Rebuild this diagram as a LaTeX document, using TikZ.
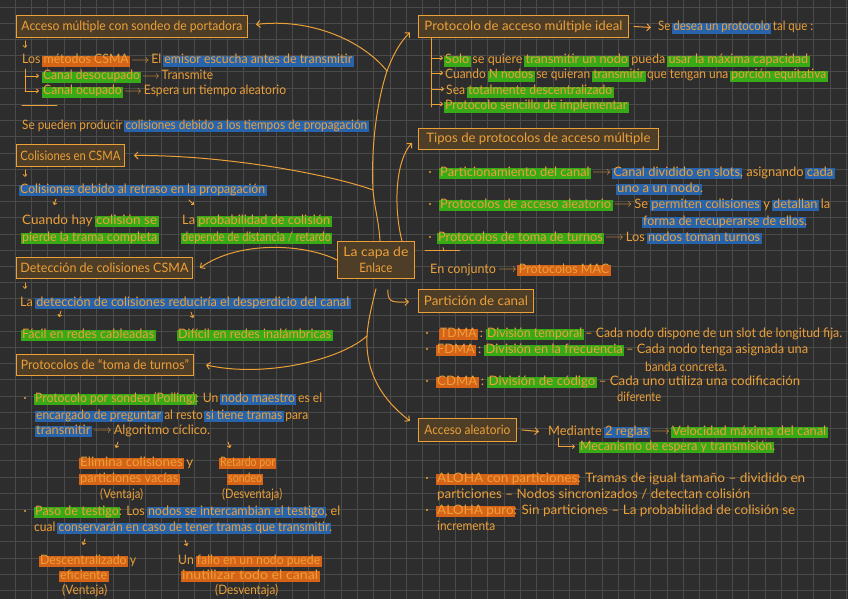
\documentclass[tikz,border=0pt]{standalone}
\usepackage{fontspec}
\setmainfont{Lato}
\usepackage{graphicx}
\usetikzlibrary{arrows.meta}
\definecolor{bg}{RGB}{45,45,45}
\definecolor{gridc}{RGB}{74,74,74}
\definecolor{ink}{RGB}{236,160,56}
\definecolor{hlB}{RGB}{40,100,172}
\definecolor{hlG}{RGB}{56,170,24}
\definecolor{hlO}{RGB}{214,100,24}
\definecolor{boxfill}{RGB}{78,62,40}
\newcommand\HLC[2]{{\setbox0\hbox{#2}\rlap{\hskip-1.5pt\textcolor{#1}{\rule[-2.6pt]{\dimexpr\wd0+3pt\relax}{10.4pt}}}\box0}}
\newcommand\HB[1]{\HLC{hlB}{#1}}
\newcommand\HG[1]{\HLC{hlG}{#1}}
\newcommand\HO[1]{\HLC{hlO}{#1}}
\newcommand\Arr{\,\raisebox{0.3pt}{$\longrightarrow$}\,}
\newsavebox\fwbox
\newcommand\FW[2]{\sbox\fwbox{#2}\scalebox{\fpeval{#1/(\the\wd\fwbox)}}[1]{\usebox\fwbox}}
\newcommand\TL[5]{\node[txt] (#1) at (#2,#3) {\FW{#4}{#5}};}
\newcommand\BX[7]{\node[box, minimum width=#4pt, minimum height=#5pt] (#1) at (#2,#3) {\FW{#6}{#7}};}
\tikzset{
 txt/.style={text=ink, inner sep=0pt, anchor=base west, font=\fontsize{13}{15}\selectfont},
 box/.style={draw=ink, line width=0.9pt, fill=boxfill, inner sep=0pt, anchor=north west, text=ink, font=\fontsize{13}{16}\selectfont, align=center},
 conn/.style={draw=ink, line width=1pt, line cap=round, -{Straight Barb[length=3.5pt,width=7pt]}},
 trunk/.style={draw=ink, line width=1pt, line cap=round},
 sarr/.style={draw=ink, line width=0.8pt, line cap=round, -{Straight Barb[length=2pt,width=4pt]}},
 thinl/.style={draw=ink, line width=0.8pt, line cap=round},
 bul/.style={circle, fill=ink, inner sep=0pt, minimum size=2.4pt},
 gridl/.style={draw=gridc, line width=0.6pt}
}
\begin{document}
\begin{tikzpicture}[x=1pt,y=-1pt]
\useasboundingbox (0,0) rectangle (848,599);
\fill[bg] (0,0) rectangle (848,599);
\foreach \i in {0,...,51} \draw[gridl] ({15+16.3*\i},0) -- ({15+16.3*\i},599);
\foreach \j in {0,...,36} \draw[gridl] (0,{7+16.2*\j}) -- (848,{7+16.2*\j});

% boxes
\BX{b1}{16}{15}{231}{22}{221}{Acceso múltiple con sondeo de portadora}
\BX{b2}{16}{144}{108}{22}{100}{Colisiones en CSMA}
\BX{b3}{16}{257}{176}{21}{168}{Detección de colisiones CSMA}
\BX{b4}{16}{354}{177}{21}{168}{Protocolos de “toma de turnos”}
\BX{b5}{418}{15}{210}{22}{198}{Protocolo de acceso múltiple ideal}
\BX{b6}{418}{128}{240}{21}{224}{Tipos de protocolos de acceso múltiple}
\BX{b7}{418}{289}{115}{23}{104}{Partición de canal}
\BX{b8}{418}{418}{98}{23}{86}{Acceso aleatorio}
\node[box, minimum width=77pt, minimum height=37pt] (enl) at (337,241) {\FW{65}{La capa de}\\\FW{33}{Enlace}};

% left texts
\TL{L1}{22}{64}{330}{Los \HO{métodos CSMA}\Arr El \HB{emisor escucha antes de transmitir}}
\TL{L2}{43}{80}{170}{\HG{Canal desocupado}\Arr Transmite}
\TL{L3}{43}{95}{243}{\HG{Canal ocupado}\Arr Espera un tiempo aleatorio}
\TL{L4}{22}{129}{345}{Se pueden producir \HB{colisiones debido a los tiempos de propagación}}
\TL{L5}{20}{193}{245}{\HB{Colisiones debido al retraso en la propagación}}
\TL{L6}{22}{224}{135}{Cuando hay \HG{colisión se}}
\TL{L7}{22}{241}{135}{\HG{pierde la trama completa}}
\TL{L8}{182}{224}{148}{La \HG{probabilidad de colisión}}
\TL{L9}{182}{241}{149}{\HG{depende de distancia / retardo}}
\TL{L10}{20}{306}{329}{La \HB{detección de colisiones reduciría el desperdicio del canal}}
\TL{L11}{22}{338}{132}{\HG{Fácil en redes cableadas}}
\TL{L12}{178}{338}{153}{\HG{Difícil en redes inalámbricas}}
\TL{L13}{35}{402}{287}{\HG{Protocolo por sondeo (Polling)}: Un \HB{nodo maestro} es el}
\TL{L14}{36}{419}{272}{\HB{encargado de preguntar} al resto \HB{si tiene tramas} para}
\TL{L15}{36}{434}{174}{\HB{transmitir}\Arr Algoritmo cíclico.}
\TL{L16}{80}{466}{113}{\HO{Elimina colisiones} y}
\TL{L17}{80}{482}{98}{\HO{particiones vacías}}
\TL{L18}{100}{498}{43}{(Ventaja)}
\TL{L19}{220}{466}{55}{\HO{Retardo por}}
\TL{L20}{228}{482}{34}{\HO{sondeo}}
\TL{L21}{222}{498}{60}{(Desventaja)}
\TL{L22}{35}{515}{305}{\HG{Paso de testigo}: Los \HB{nodos se intercambian el testigo}, el}
\TL{L23}{34}{531}{298}{cual \HB{conservarán en caso de tener tramas que transmitir}.}
\TL{L24}{40}{564}{96}{\HO{Descentralizado} y}
\TL{L25}{60}{579}{47}{\HO{eficiente}}
\TL{L26}{62}{594}{45}{(Ventaja)}
\TL{L27}{178}{564}{142}{Un \HO{fallo en un nodo puede}}
\TL{L28}{182}{579}{136}{\HO{inutilizar todo el canal}}
\TL{L29}{215}{594}{63}{(Desventaja)}

% right texts
\TL{R1}{658}{31}{155}{Se \HB{desea un protocolo} tal que :}
\TL{R2}{445}{64}{363}{\HG{Solo} se quiere \HG{transmitir un nodo} pueda \HG{usar la máxima capacidad}}
\TL{R3}{445}{79}{381}{Cuando \HG{N nodos} se quieran \HG{transmitir} que tengan una \HG{porción equitativa}}
\TL{R4}{446}{95}{166}{Sea \HG{totalmente descentralizado}}
\TL{R5}{445}{110}{182}{\HG{Protocolo sencillo de implementar}}
\TL{R6}{440}{176}{393}{\HG{Particionamiento del canal}\Arr\HB{Canal dividido en slots}, asignando \HB{cada}}
\TL{R7}{617}{192}{86}{\HB{uno a un nodo}.}
\TL{R8}{440}{208}{390}{\HG{Protocolos de acceso aleatorio}\Arr Se \HB{permiten colisiones} y \HB{detallan} la}
\TL{R9}{643}{225}{164}{\HB{forma de recuperarse de ellos}.}
\TL{R10}{438}{241}{322}{\HG{Protocolos de toma de turnos}\Arr Los \HB{nodos toman turnos}}
\TL{R11}{430}{273}{179}{En conjunto\Arr\HO{Protocolos MAC}}
\TL{R12}{440}{337}{402}{\HO{TDMA} : \HG{División temporal} – Cada nodo dispone de un slot de longitud fija.}
\TL{R13}{437}{353}{371}{\HO{FDMA} : \HG{División en la frecuencia} – Cada nodo tenga asignada una}
\TL{R14}{645}{371}{82}{banda concreta.}
\TL{R15}{437}{385}{363}{\HO{CDMA} : \HG{División de código} – Cada uno utiliza una codificación}
\TL{R16}{617}{401}{44}{diferente}
\TL{R17}{548}{435}{278}{Mediante \HB{2 reglas}\Arr\HG{Velocidad máxima del canal}}
\TL{R18}{580}{450}{195}{\HG{Mecanismo de espera y transmisión}.}
\TL{R19}{437}{482}{368}{\HO{ALOHA con particiones}: Tramas de igual tamaño – dividido en}
\TL{R20}{437}{498}{313}{particiones – Nodos sincronizados / detectan colisión}
\TL{R21}{437}{514}{358}{\HO{ALOHA puro}: Sin particiones – La probabilidad de colisión se}
\TL{R22}{437}{530}{58}{incrementa}

% bullets
\node[bul] (u1) at (25,398) {};
\node[bul] (u2) at (25,511) {};
\node[bul] (u3) at (430,172) {};
\node[bul] (u4) at (430,204) {};
\node[bul] (u5) at (430,237) {};
\node[bul] (u6) at (427,333) {};
\node[bul] (u7) at (427,349) {};
\node[bul] (u8) at (427,381) {};
\node[bul] (u9) at (427,478) {};
\node[bul] (u10) at (427,510) {};

% main connectors
\coordinate (j1) at (373,190);
\coordinate (j2) at (387,71);
\coordinate (j3) at (367,336);
\draw[trunk] ([xshift=4pt]enl.north) .. controls (379,222) and (374,205) .. (j1) .. controls (371,150) and (376,105) .. (j2);
\draw[conn] (j2) .. controls (393,55) and (400,42) .. ([xshift=-8pt,yshift=-6pt]b5.west);
\draw[conn] (j2) .. controls (362,40) and (310,18) .. ([xshift=8pt,yshift=2pt]b1.east);
\draw[conn] (j1) .. controls (335,176) and (230,155) .. ([xshift=9pt]b2.east);
\draw[conn] ([xshift=26pt]enl.north) .. controls (393,205) and (396,160) .. ([xshift=-6pt,yshift=-4pt]b6.west);
\draw[conn] (enl.west) .. controls (305,244) and (240,240) .. ([xshift=7pt]b3.east);
\draw[trunk] ([yshift=-10pt]enl.south) .. controls (372,305) and (368,320) .. (j3);
\draw[conn] (j3) .. controls (365,375) and (385,402) .. ([xshift=-8pt,yshift=9pt]b8.west);
\draw[conn] (j3) .. controls (340,360) and (265,378) .. ([xshift=12pt]b4.east);
\draw[conn] ([xshift=12pt,yshift=-11pt]enl.south) .. controls (387,304) and (395,302) .. ([xshift=-9pt,yshift=-1pt]b7.west);

% box to text arrows
\draw[conn] ([xshift=5pt]b5.east) -- ([xshift=-7pt]R1.west);
\draw[conn] ([xshift=5pt]b8.east) -- ([xshift=-9pt]R17.west);
\draw[sarr] ([xshift=10pt,yshift=-3pt]R17.base west) |- ([xshift=-5pt]R18.west);

% small down arrows
\draw[sarr] ([xshift=9pt,yshift=-3pt]b1.south west) -- ++(0,7);
\draw[sarr] ([xshift=9pt,yshift=-3pt]b2.south west) -- ++(0,7);
\draw[sarr] ([xshift=9pt,yshift=-4pt]b3.south west) -- ++(0,6);
\draw[sarr] (56,199) -- (54,205);
\draw[sarr] (189,200) -- (194,205);
\draw[sarr] (61,311) -- (59,317);
\draw[sarr] (191,312) -- (193,318);
\draw[sarr] (118,442) -- (116,448);
\draw[sarr] (228,442) -- (230,448);
\draw[sarr] (85,539) -- (83,545);
\draw[sarr] (185,540) -- (187,546);

% left tree
\draw[thinl] ([xshift=-18pt,yshift=11pt]L2.base west) -- ([xshift=-18pt,yshift=4pt]L3.base west);
\draw[sarr] ([xshift=-18pt,yshift=4pt]L2.base west) -- ([xshift=-4pt,yshift=4pt]L2.base west);
\draw[sarr] ([xshift=-18pt,yshift=4pt]L3.base west) -- ([xshift=-4pt,yshift=4pt]L3.base west);
% right tree
\draw[thinl] ([xshift=13pt]b5.south west) -- ([xshift=-14pt,yshift=3pt]R5.base west);
\foreach \r in {R2,R3,R4,R5}
  \draw[sarr] ([xshift=-14pt,yshift=6pt]\r.base west) -- ([xshift=-2pt,yshift=6pt]\r.base west);

% separators
\draw[thinl] (22,105) -- (57,105);
\draw[thinl] (425,250) -- (460,250);
\draw[thinl] (443,247.5) -- (444,251);
\end{tikzpicture}
\end{document}
